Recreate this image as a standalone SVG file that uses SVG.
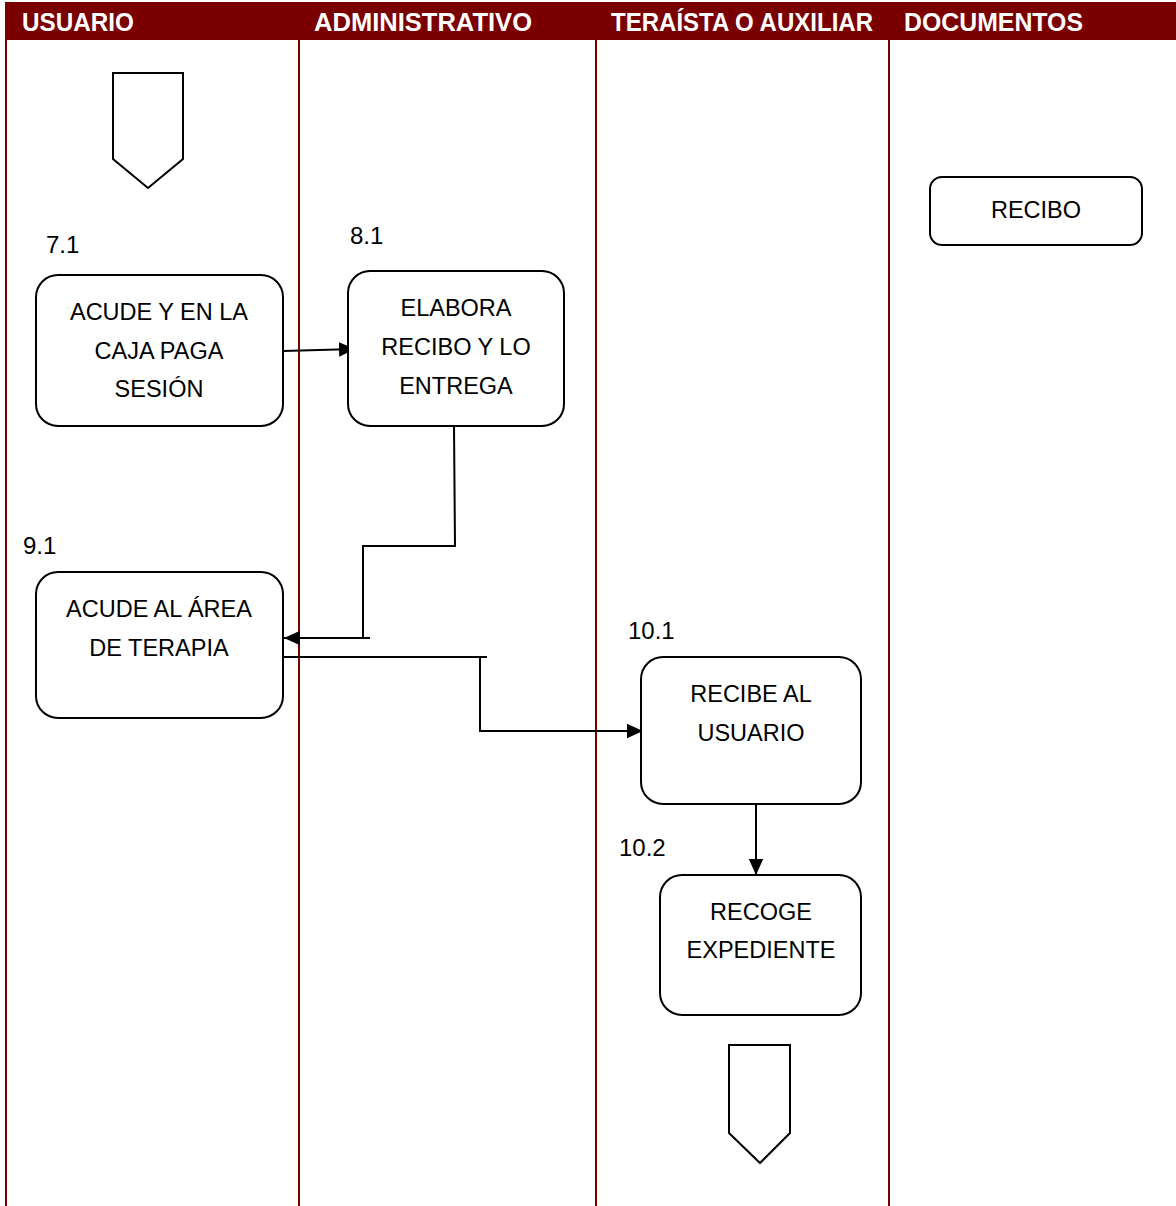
<svg xmlns="http://www.w3.org/2000/svg" width="1176" height="1206" viewBox="0 0 1176 1206">
  <style>
    .lane { stroke: #7a0000; stroke-width: 2; fill: none; }
    .hdr { fill: #ffffff; font-family: "Liberation Sans", Arial, sans-serif; font-weight: bold; font-size: 25px; }
    .box { fill: #ffffff; stroke: #000000; stroke-width: 2; }
    .txt { fill: #000000; font-family: "Liberation Sans", Arial, sans-serif; font-size: 23.5px; text-anchor: middle; }
    .num { fill: #000000; font-family: "Liberation Sans", Arial, sans-serif; font-size: 24px; }
    .conn { stroke: #000000; stroke-width: 2; fill: none; }
  </style>
  <defs>
    <marker id="arrowBig" viewBox="0 0 10 10" refX="10" refY="5" markerWidth="16" markerHeight="16" markerUnits="userSpaceOnUse" orient="auto">
      <path d="M0,0.5 L10,5 L0,9.5 Z" fill="#000000"/>
    </marker>
  </defs>

  <rect x="0" y="0" width="1176" height="1206" fill="#ffffff"/>

  <!-- lane header band -->
  <g id="header">
    <rect x="5" y="2" width="1171" height="38" fill="#7a0000"/>
    <text class="hdr" x="22" y="31" textLength="112" lengthAdjust="spacingAndGlyphs">USUARIO</text>
    <text class="hdr" x="314" y="31" textLength="218" lengthAdjust="spacingAndGlyphs">ADMINISTRATIVO</text>
    <text class="hdr" x="611" y="31" textLength="262" lengthAdjust="spacingAndGlyphs">TERAÍSTA O AUXILIAR</text>
    <text class="hdr" x="904" y="31" textLength="179" lengthAdjust="spacingAndGlyphs">DOCUMENTOS</text>
  </g>

  <!-- lane separators -->
  <g id="lanes">
    <line class="lane" x1="6" y1="40" x2="6" y2="1206"/>
    <line class="lane" x1="299" y1="40" x2="299" y2="1206"/>
    <line class="lane" x1="596" y1="40" x2="596" y2="1206"/>
    <line class="lane" x1="889" y1="40" x2="889" y2="1206"/>
  </g>

  <!-- connectors -->
  <g id="connectors">
    <path class="conn" d="M283,351 L355,349" marker-end="url(#arrowBig)"/>
    <path class="conn" d="M454,426 L455,546 L363,546 L363,638"/>
    <path class="conn" d="M370,638 L284,638" marker-end="url(#arrowBig)"/>
    <path class="conn" d="M283,657 L487,657"/>
    <path class="conn" d="M480,657 L480,731 L643,731" marker-end="url(#arrowBig)"/>
    <path class="conn" d="M756,804 L756,875" marker-end="url(#arrowBig)"/>
  </g>

  <!-- start connector -->
  <g id="start">
    <path class="box" d="M113,73 L183,73 L183,159 L148,188 L113,159 Z"/>
  </g>

  <g id="n7-1">
    <text class="num" x="46" y="253">7.1</text>
    <rect class="box" x="36" y="275" width="247" height="151" rx="22"/>
    <text class="txt" x="159" y="320">ACUDE Y EN LA</text>
    <text class="txt" x="159" y="359">CAJA PAGA</text>
    <text class="txt" x="159" y="397">SESIÓN</text>
  </g>

  <g id="n8-1">
    <text class="num" x="350" y="244">8.1</text>
    <rect class="box" x="348" y="271" width="216" height="155" rx="22"/>
    <text class="txt" x="456" y="316">ELABORA</text>
    <text class="txt" x="456" y="355">RECIBO Y LO</text>
    <text class="txt" x="456" y="394">ENTREGA</text>
  </g>

  <g id="recibo">
    <rect class="box" x="930" y="177" width="212" height="68" rx="12"/>
    <text class="txt" x="1036" y="218">RECIBO</text>
  </g>

  <g id="n9-1">
    <text class="num" x="23" y="554">9.1</text>
    <rect class="box" x="36" y="572" width="247" height="146" rx="22"/>
    <text class="txt" x="159" y="617">ACUDE AL ÁREA</text>
    <text class="txt" x="159" y="656">DE TERAPIA</text>
  </g>

  <g id="n10-1">
    <text class="num" x="628" y="639">10.1</text>
    <rect class="box" x="641" y="657" width="220" height="147" rx="22"/>
    <text class="txt" x="751" y="702">RECIBE AL</text>
    <text class="txt" x="751" y="741">USUARIO</text>
  </g>

  <g id="n10-2">
    <text class="num" x="619" y="856">10.2</text>
    <rect class="box" x="660" y="875" width="201" height="140" rx="22"/>
    <text class="txt" x="761" y="920">RECOGE</text>
    <text class="txt" x="761" y="958">EXPEDIENTE</text>
  </g>

  <!-- end connector -->
  <g id="end">
    <path class="box" d="M729,1045 L790,1045 L790,1133 L760,1163 L729,1133 Z"/>
  </g>
</svg>
